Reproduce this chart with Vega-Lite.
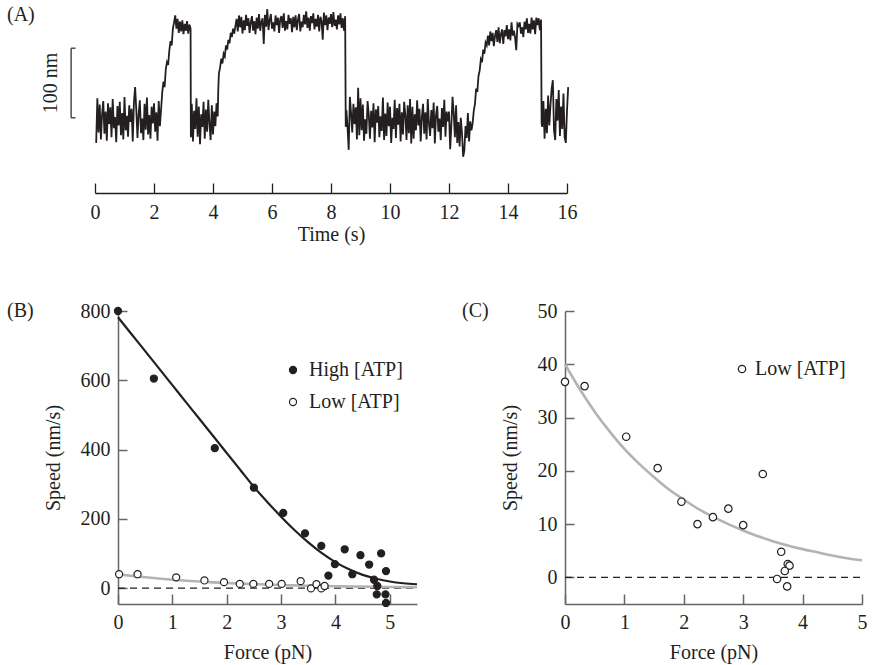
{
  "$schema": "https://vega.github.io/schema/vega-lite/v6.json",
  "padding": {"left": 7, "top": 5, "right": 5, "bottom": 5},
  "background": "white",
  "config": {
    "font": "Liberation Serif",
    "view": {"stroke": null},
    "axis": {"labelFont": "Liberation Serif", "titleFont": "Liberation Serif", "labelFontSize": 20, "titleFontSize": 20, "titleFontWeight": "normal", "grid": false, "domainColor": "#666666", "tickColor": "#666666", "domainWidth": 1.5, "tickWidth": 1.5, "labelColor": "#231f20", "titleColor": "#231f20", "labelFlush": false, "labelOverlap": false},
    "legend": {"labelFont": "Liberation Serif", "labelFontSize": 20, "labelColor": "#231f20"},
    "title": {"anchor": "start", "frame": "group", "font": "Liberation Serif", "fontSize": 20, "fontWeight": "normal", "color": "#231f20", "offset": 0}
  },
  "datasets": {
    "trace": [
      {"t":0.04,"y":72},{"t":0.08,"y":136},{"t":0.12,"y":87},{"t":0.16,"y":127},{"t":0.20,"y":77},{"t":0.24,"y":113},{"t":0.28,"y":132},{"t":0.32,"y":85},{"t":0.36,"y":117},{"t":0.40,"y":75},
      {"t":0.44,"y":129},{"t":0.48,"y":99},{"t":0.52,"y":123},{"t":0.56,"y":80},{"t":0.60,"y":135},{"t":0.64,"y":93},{"t":0.68,"y":109},{"t":0.72,"y":73},{"t":0.76,"y":125},{"t":0.80,"y":97},
      {"t":0.84,"y":131},{"t":0.88,"y":83},{"t":0.92,"y":115},{"t":0.96,"y":77},{"t":1.00,"y":138},{"t":1.04,"y":90},{"t":1.08,"y":111},{"t":1.12,"y":81},{"t":1.16,"y":126},{"t":1.20,"y":102},
      {"t":1.24,"y":121},{"t":1.28,"y":74},{"t":1.32,"y":130},{"t":1.36,"y":152},{"t":1.40,"y":119},{"t":1.44,"y":79},{"t":1.48,"y":114},{"t":1.52,"y":133},{"t":1.56,"y":86},{"t":1.60,"y":107},
      {"t":1.64,"y":76},{"t":1.68,"y":128},{"t":1.72,"y":91},{"t":1.76,"y":137},{"t":1.80,"y":84},{"t":1.84,"y":112},{"t":1.88,"y":78},{"t":1.92,"y":124},{"t":1.96,"y":100},{"t":2.00,"y":129},
      {"t":2.04,"y":88},{"t":2.08,"y":116},{"t":2.12,"y":75},{"t":2.16,"y":132},{"t":2.20,"y":96},{"t":2.24,"y":120},
      {"t":2.28,"y":145},{"t":2.32,"y":160},{"t":2.36,"y":152},{"t":2.40,"y":178},{"t":2.44,"y":188},{"t":2.48,"y":184},{"t":2.52,"y":205},{"t":2.56,"y":218},{"t":2.60,"y":212},{"t":2.64,"y":236},
      {"t":2.68,"y":245},{"t":2.72,"y":255},{"t":2.76,"y":236},{"t":2.80,"y":250},{"t":2.84,"y":230},{"t":2.88,"y":246},{"t":2.92,"y":232},{"t":2.96,"y":248},{"t":3.00,"y":228},{"t":3.04,"y":243},
      {"t":3.08,"y":233},{"t":3.12,"y":247},{"t":3.16,"y":229},{"t":3.20,"y":242},{"t":3.24,"y":236},{"t":3.25,"y":80},
      {"t":3.28,"y":128},{"t":3.32,"y":74},{"t":3.36,"y":118},{"t":3.40,"y":92},{"t":3.44,"y":136},{"t":3.48,"y":81},{"t":3.52,"y":124},{"t":3.56,"y":70},{"t":3.60,"y":113},{"t":3.64,"y":95},
      {"t":3.68,"y":131},{"t":3.72,"y":78},{"t":3.76,"y":120},{"t":3.80,"y":88},{"t":3.84,"y":134},{"t":3.88,"y":99},{"t":3.92,"y":76},{"t":3.96,"y":126},{"t":4.00,"y":84},{"t":4.04,"y":117},
      {"t":4.08,"y":96},{"t":4.12,"y":129},{"t":4.16,"y":110},
      {"t":4.18,"y":150},{"t":4.20,"y":172},{"t":4.24,"y":180},{"t":4.28,"y":193},{"t":4.32,"y":186},{"t":4.36,"y":200},{"t":4.40,"y":196},{"t":4.44,"y":212},{"t":4.48,"y":206},{"t":4.52,"y":220},
      {"t":4.56,"y":215},{"t":4.60,"y":230},{"t":4.64,"y":224},{"t":4.68,"y":236},{"t":4.72,"y":229},{"t":4.76,"y":240},
      {"t":4.80,"y":250},{"t":4.84,"y":232},{"t":4.88,"y":255},{"t":4.92,"y":238},{"t":4.96,"y":253},{"t":5.00,"y":229},{"t":5.04,"y":248},{"t":5.08,"y":234},{"t":5.12,"y":256},{"t":5.16,"y":240},
      {"t":5.20,"y":251},{"t":5.24,"y":230},{"t":5.28,"y":245},{"t":5.32,"y":254},{"t":5.36,"y":233},{"t":5.40,"y":247},{"t":5.44,"y":228},{"t":5.48,"y":252},{"t":5.52,"y":236},{"t":5.56,"y":257},
      {"t":5.60,"y":233},{"t":5.64,"y":246},{"t":5.68,"y":251},{"t":5.72,"y":214},{"t":5.76,"y":256},{"t":5.80,"y":239},{"t":5.84,"y":264},{"t":5.88,"y":234},{"t":5.92,"y":248},{"t":5.96,"y":257},
      {"t":6.00,"y":236},{"t":6.04,"y":245},{"t":6.08,"y":232},{"t":6.12,"y":255},{"t":6.16,"y":241},{"t":6.20,"y":252},{"t":6.24,"y":230},{"t":6.28,"y":250},{"t":6.32,"y":254},{"t":6.36,"y":237},
      {"t":6.40,"y":258},{"t":6.44,"y":233},{"t":6.48,"y":247},{"t":6.52,"y":235},{"t":6.56,"y":256},{"t":6.60,"y":243},{"t":6.64,"y":251},{"t":6.68,"y":231},{"t":6.72,"y":253},{"t":6.76,"y":238},
      {"t":6.80,"y":255},{"t":6.84,"y":234},{"t":6.88,"y":249},{"t":6.92,"y":257},{"t":6.96,"y":232},{"t":7.00,"y":246},{"t":7.04,"y":238},{"t":7.08,"y":256},{"t":7.12,"y":242},{"t":7.16,"y":261},
      {"t":7.20,"y":237},{"t":7.24,"y":252},{"t":7.28,"y":233},{"t":7.32,"y":254},{"t":7.36,"y":244},{"t":7.40,"y":258},{"t":7.44,"y":235},{"t":7.48,"y":250},{"t":7.52,"y":239},{"t":7.56,"y":256},
      {"t":7.60,"y":232},{"t":7.64,"y":253},{"t":7.68,"y":247},{"t":7.72,"y":220},{"t":7.76,"y":259},{"t":7.80,"y":241},{"t":7.84,"y":255},{"t":7.88,"y":234},{"t":7.92,"y":252},{"t":7.96,"y":243},
      {"t":8.00,"y":257},{"t":8.04,"y":238},{"t":8.08,"y":260},{"t":8.12,"y":240},{"t":8.16,"y":249},{"t":8.20,"y":235},{"t":8.24,"y":255},{"t":8.28,"y":242},{"t":8.32,"y":258},{"t":8.36,"y":237},
      {"t":8.40,"y":251},{"t":8.44,"y":233},{"t":8.48,"y":254},{"t":8.50,"y":95},
      {"t":8.52,"y":119},{"t":8.56,"y":95},{"t":8.60,"y":62},{"t":8.64,"y":138},{"t":8.68,"y":115},{"t":8.72,"y":87},{"t":8.76,"y":128},{"t":8.80,"y":99},{"t":8.84,"y":123},{"t":8.88,"y":77},
      {"t":8.92,"y":151},{"t":8.96,"y":83},{"t":9.00,"y":136},{"t":9.04,"y":90},{"t":9.08,"y":127},{"t":9.12,"y":75},{"t":9.16,"y":106},{"t":9.20,"y":85},{"t":9.24,"y":132},{"t":9.28,"y":113},
      {"t":9.32,"y":78},{"t":9.36,"y":118},{"t":9.40,"y":94},{"t":9.44,"y":129},{"t":9.48,"y":73},{"t":9.52,"y":120},{"t":9.56,"y":101},{"t":9.60,"y":125},{"t":9.64,"y":80},{"t":9.68,"y":110},
      {"t":9.72,"y":89},{"t":9.76,"y":137},{"t":9.80,"y":76},{"t":9.84,"y":114},{"t":9.88,"y":82},{"t":9.92,"y":130},{"t":9.96,"y":96},{"t":10.00,"y":124},{"t":10.04,"y":72},{"t":10.08,"y":108},
      {"t":10.12,"y":92},{"t":10.16,"y":134},{"t":10.20,"y":79},{"t":10.24,"y":122},{"t":10.28,"y":98},{"t":10.32,"y":128},{"t":10.36,"y":74},{"t":10.40,"y":116},{"t":10.44,"y":84},{"t":10.48,"y":131},
      {"t":10.52,"y":112},{"t":10.56,"y":76},{"t":10.60,"y":126},{"t":10.64,"y":86},{"t":10.68,"y":135},{"t":10.72,"y":71},{"t":10.76,"y":124},{"t":10.80,"y":78},{"t":10.84,"y":113},{"t":10.88,"y":90},
      {"t":10.92,"y":133},{"t":10.96,"y":97},{"t":11.00,"y":121},{"t":11.04,"y":74},{"t":11.08,"y":109},{"t":11.12,"y":128},{"t":11.16,"y":85},{"t":11.20,"y":116},{"t":11.24,"y":77},{"t":11.28,"y":135},
      {"t":11.32,"y":100},{"t":11.36,"y":82},{"t":11.40,"y":119},{"t":11.44,"y":93},{"t":11.48,"y":130},{"t":11.52,"y":71},{"t":11.56,"y":112},{"t":11.60,"y":125},{"t":11.64,"y":88},{"t":11.68,"y":107},
      {"t":11.72,"y":76},{"t":11.76,"y":122},{"t":11.80,"y":95},{"t":11.84,"y":134},{"t":11.88,"y":81},{"t":11.92,"y":117},{"t":11.96,"y":103},{"t":12.00,"y":117},{"t":12.04,"y":63},{"t":12.08,"y":98},
      {"t":12.12,"y":138},{"t":12.16,"y":114},{"t":12.20,"y":80},{"t":12.24,"y":126},{"t":12.28,"y":72},{"t":12.32,"y":102},{"t":12.36,"y":67},{"t":12.40,"y":108},{"t":12.44,"y":86},{"t":12.48,"y":52},
      {"t":12.52,"y":61},{"t":12.56,"y":96},{"t":12.60,"y":79},{"t":12.64,"y":115},{"t":12.68,"y":74},{"t":12.72,"y":103},{"t":12.76,"y":90},
      {"t":12.80,"y":100},{"t":12.84,"y":118},{"t":12.88,"y":128},{"t":12.92,"y":150},{"t":12.96,"y":145},{"t":13.00,"y":168},{"t":13.04,"y":176},{"t":13.08,"y":192},{"t":13.12,"y":188},{"t":13.16,"y":206},
      {"t":13.20,"y":200},{"t":13.24,"y":216},{"t":13.28,"y":212},
      {"t":13.32,"y":226},{"t":13.36,"y":212},{"t":13.40,"y":232},{"t":13.44,"y":218},{"t":13.48,"y":230},{"t":13.52,"y":211},{"t":13.56,"y":226},{"t":13.60,"y":234},{"t":13.64,"y":217},{"t":13.68,"y":238},
      {"t":13.72,"y":215},{"t":13.76,"y":228},{"t":13.80,"y":235},{"t":13.84,"y":214},{"t":13.88,"y":234},{"t":13.92,"y":225},{"t":13.96,"y":241},{"t":14.00,"y":221},{"t":14.04,"y":235},{"t":14.08,"y":219},
      {"t":14.12,"y":245},{"t":14.16,"y":226},{"t":14.20,"y":233},{"t":14.24,"y":223},{"t":14.28,"y":205},{"t":14.32,"y":243},{"t":14.36,"y":240},{"t":14.40,"y":245},{"t":14.44,"y":229},{"t":14.48,"y":238},
      {"t":14.52,"y":224},{"t":14.56,"y":246},{"t":14.60,"y":235},{"t":14.64,"y":251},{"t":14.68,"y":230},{"t":14.72,"y":243},{"t":14.76,"y":229},{"t":14.80,"y":252},{"t":14.84,"y":235},{"t":14.88,"y":248},
      {"t":14.92,"y":228},{"t":14.96,"y":252},{"t":15.00,"y":241},{"t":15.04,"y":251},{"t":15.08,"y":234},{"t":15.12,"y":249},{"t":15.14,"y":100},
      {"t":15.16,"y":95},{"t":15.20,"y":132},{"t":15.24,"y":78},{"t":15.28,"y":121},{"t":15.32,"y":86},{"t":15.36,"y":140},{"t":15.40,"y":97},{"t":15.44,"y":126},{"t":15.48,"y":150},{"t":15.52,"y":162},
      {"t":15.56,"y":90},{"t":15.60,"y":76},{"t":15.64,"y":135},{"t":15.68,"y":104},{"t":15.72,"y":148},{"t":15.76,"y":82},{"t":15.80,"y":124},{"t":15.84,"y":92},{"t":15.88,"y":143},{"t":15.92,"y":80},
      {"t":15.96,"y":72},{"t":16.00,"y":118},{"t":16.04,"y":152}
    ],
    "bracket": [{"t": -0.81, "y": 108, "y2": 208}],
    "bracketEnds": [{"t": -0.81, "t2": -0.66, "y": 108}, {"t": -0.81, "t2": -0.66, "y": 208}],
    "scaleLabel": [{"t": -1.49, "y": 158, "label": "100 nm"}],
    "zeroB": [{"F": 0, "F2": 5.5, "S": 0}],
    "zeroC": [{"F": 0, "F2": 5, "S": 0}],
    "highFit": [
      {"F":0,"S":782},{"F":0.25,"S":733},{"F":0.5,"S":684},{"F":0.75,"S":635},{"F":1,"S":586},{"F":1.25,"S":537},{"F":1.5,"S":488},{"F":1.75,"S":439},{"F":2,"S":390},{"F":2.25,"S":341},{"F":2.5,"S":292},{"F":2.75,"S":248},
      {"F":3,"S":206},{"F":3.25,"S":167},{"F":3.5,"S":132},{"F":3.75,"S":101},{"F":4,"S":75},{"F":4.25,"S":54},{"F":4.5,"S":38},{"F":4.75,"S":27},{"F":5,"S":19},{"F":5.25,"S":14},{"F":5.5,"S":11}
    ],
    "lowFitB": [
      {"F":0,"S":40},{"F":0.25,"S":35.3},{"F":0.5,"S":31.1},{"F":0.75,"S":27.4},{"F":1,"S":24.1},{"F":1.25,"S":21.3},{"F":1.5,"S":18.8},{"F":1.75,"S":16.5},{"F":2,"S":14.6},{"F":2.25,"S":12.8},{"F":2.5,"S":11.3},{"F":2.75,"S":10.0},
      {"F":3,"S":8.8},{"F":3.25,"S":7.7},{"F":3.5,"S":6.8},{"F":3.75,"S":6.0},{"F":4,"S":5.3},{"F":4.25,"S":4.7},{"F":4.5,"S":4.1},{"F":4.75,"S":3.6},{"F":5,"S":3.2},{"F":5.25,"S":2.8},{"F":5.5,"S":2.5}
    ],
    "lowFitC": [
      {"F":0,"S":40},{"F":0.25,"S":35.3},{"F":0.5,"S":31.1},{"F":0.75,"S":27.4},{"F":1,"S":24.1},{"F":1.25,"S":21.3},{"F":1.5,"S":18.8},{"F":1.75,"S":16.5},{"F":2,"S":14.6},{"F":2.25,"S":12.8},{"F":2.5,"S":11.3},{"F":2.75,"S":10.0},
      {"F":3,"S":8.8},{"F":3.25,"S":7.7},{"F":3.5,"S":6.8},{"F":3.75,"S":6.0},{"F":4,"S":5.3},{"F":4.25,"S":4.7},{"F":4.5,"S":4.1},{"F":4.75,"S":3.6},{"F":5,"S":3.2}
    ],
    "pointsB": [
      {"F":0,"S":800,"series":"High [ATP]"},{"F":0.66,"S":605,"series":"High [ATP]"},{"F":1.78,"S":404,"series":"High [ATP]"},{"F":2.5,"S":290,"series":"High [ATP]"},{"F":3.04,"S":217,"series":"High [ATP]"},
      {"F":3.44,"S":158,"series":"High [ATP]"},{"F":3.74,"S":122,"series":"High [ATP]"},{"F":3.99,"S":69,"series":"High [ATP]"},{"F":3.87,"S":36,"series":"High [ATP]"},{"F":4.17,"S":112,"series":"High [ATP]"},
      {"F":4.31,"S":40,"series":"High [ATP]"},{"F":4.46,"S":95,"series":"High [ATP]"},{"F":4.62,"S":68,"series":"High [ATP]"},{"F":4.71,"S":24,"series":"High [ATP]"},{"F":4.77,"S":6,"series":"High [ATP]"},
      {"F":4.76,"S":-18,"series":"High [ATP]"},{"F":4.84,"S":100,"series":"High [ATP]"},{"F":4.93,"S":49,"series":"High [ATP]"},{"F":4.92,"S":-18,"series":"High [ATP]"},{"F":4.93,"S":-43,"series":"High [ATP]"},
      {"F":0.02,"S":40,"series":"Low [ATP]"},{"F":0.36,"S":40,"series":"Low [ATP]"},{"F":1.07,"S":31,"series":"Low [ATP]"},{"F":1.59,"S":22,"series":"Low [ATP]"},{"F":1.95,"S":17,"series":"Low [ATP]"},
      {"F":2.24,"S":12,"series":"Low [ATP]"},{"F":2.49,"S":12,"series":"Low [ATP]"},{"F":2.78,"S":12,"series":"Low [ATP]"},{"F":3.01,"S":12,"series":"Low [ATP]"},{"F":3.36,"S":20,"series":"Low [ATP]"},
      {"F":3.55,"S":-1,"series":"Low [ATP]"},{"F":3.65,"S":11,"series":"Low [ATP]"},{"F":3.74,"S":-1,"series":"Low [ATP]"},{"F":3.8,"S":6,"series":"Low [ATP]"}
    ],
    "pointsC": [
      {"F":0,"S":36.7,"series":"Low [ATP]"},{"F":0.33,"S":35.9,"series":"Low [ATP]"},{"F":1.03,"S":26.4,"series":"Low [ATP]"},{"F":1.56,"S":20.5,"series":"Low [ATP]"},
      {"F":1.96,"S":14.2,"series":"Low [ATP]"},{"F":2.23,"S":10.0,"series":"Low [ATP]"},{"F":2.49,"S":11.3,"series":"Low [ATP]"},{"F":2.75,"S":12.9,"series":"Low [ATP]"},
      {"F":3.0,"S":9.8,"series":"Low [ATP]"},{"F":3.33,"S":19.4,"series":"Low [ATP]"},{"F":3.64,"S":4.8,"series":"Low [ATP]"},{"F":3.57,"S":-0.3,"series":"Low [ATP]"},
      {"F":3.75,"S":2.5,"series":"Low [ATP]"},{"F":3.78,"S":2.2,"series":"Low [ATP]"},{"F":3.70,"S":1.2,"series":"Low [ATP]"},{"F":3.74,"S":-1.7,"series":"Low [ATP]"}
    ]
  },
  "bounds": "flush",
  "spacing": 118,
  "resolve": {"scale": {"x": "independent", "y": "independent", "fill": "independent"}, "legend": {"fill": "independent"}},
  "vconcat": [
    {
      "width": 449,
      "height": 188,
      "title": {"text": "(A)", "dx": -111, "dy": 24},
      "encoding": {
        "x": {"field": "t", "type": "quantitative", "scale": {"domain": [0, 16], "range": [-23, 449], "nice": false, "zero": false},
              "axis": {"title": "Time (s)", "values": [0, 2, 4, 6, 8, 10, 12, 14, 16], "tickSize": -10, "labelPadding": 19, "titlePadding": 2, "domainColor": "#231f20", "tickColor": "#231f20", "domainWidth": 1.3, "tickWidth": 1.3}},
        "y": {"field": "y", "type": "quantitative", "scale": {"domain": [0, 270], "nice": false, "zero": false}, "axis": null}
      },
      "layer": [
        {"data": {"name": "trace"}, "mark": {"type": "line", "color": "#231f20", "strokeWidth": 1.8, "strokeJoin": "miter"}},
        {"data": {"name": "bracket"}, "mark": {"type": "rule", "color": "#231f20", "strokeWidth": 1.2}, "encoding": {"y2": {"field": "y2"}}},
        {"data": {"name": "bracketEnds"}, "mark": {"type": "rule", "color": "#231f20", "strokeWidth": 1.2}, "encoding": {"x2": {"field": "t2"}}},
        {"data": {"name": "scaleLabel"}, "mark": {"type": "text", "angle": 270, "fontSize": 20, "font": "Liberation Serif", "color": "#231f20", "align": "center", "baseline": "middle"}, "encoding": {"text": {"field": "label"}}}
      ]
    },
    {
      "bounds": "flush",
      "spacing": 148,
      "resolve": {"scale": {"x": "independent", "y": "independent", "fill": "independent"}, "legend": {"fill": "independent"}},
      "hconcat": [
        {
          "width": 299,
          "height": 293,
          "title": {"text": "(B)", "dx": -111, "dy": 24},
          "encoding": {
            "x": {"field": "F", "type": "quantitative", "scale": {"domain": [0, 5.5], "nice": false, "zero": false},
                  "axis": {"title": "Force (pN)", "values": [0, 1, 2, 3, 4, 5], "tickSize": -10, "labelPadding": 18, "titlePadding": 10}},
            "y": {"field": "S", "type": "quantitative", "scale": {"domain": [-46, 800], "nice": false, "zero": false},
                  "axis": {"title": "Speed (nm/s)", "values": [0, 200, 400, 600, 800], "tickSize": -9, "labelPadding": 17, "titlePadding": 17}}
          },
          "layer": [
            {"data": {"name": "zeroB"}, "mark": {"type": "rule", "color": "#231f20", "strokeWidth": 1.2, "strokeDash": [7, 5]}, "encoding": {"x2": {"field": "F2"}}},
            {"data": {"name": "lowFitB"}, "mark": {"type": "line", "color": "#b3b3b3", "strokeWidth": 2.6, "interpolate": "monotone"}},
            {"data": {"name": "highFit"}, "mark": {"type": "line", "color": "#231f20", "strokeWidth": 2.2, "interpolate": "monotone"}},
            {"data": {"name": "pointsB"}, "mark": {"type": "point", "shape": "circle", "filled": true, "size": 50, "stroke": "#231f20", "strokeWidth": 1.2, "opacity": 1},
             "encoding": {"fill": {"field": "series", "type": "nominal", "scale": {"domain": ["High [ATP]", "Low [ATP]"], "range": ["#231f20", "white"]},
               "legend": {"orient": "none", "legendX": 165, "legendY": 49, "title": null, "symbolType": "circle", "symbolSize": 50, "symbolStrokeColor": "#231f20", "symbolStrokeWidth": 1.2, "labelOffset": 6, "rowPadding": 12}}}}
          ]
        },
        {
          "width": 297,
          "height": 293,
          "title": {"text": "(C)", "dx": -103, "dy": 24},
          "encoding": {
            "x": {"field": "F", "type": "quantitative", "scale": {"domain": [0, 5], "nice": false, "zero": false},
                  "axis": {"title": "Force (pN)", "values": [0, 1, 2, 3, 4, 5], "tickSize": -10, "labelPadding": 18, "titlePadding": 10}},
            "y": {"field": "S", "type": "quantitative", "scale": {"domain": [-5, 50], "nice": false, "zero": false},
                  "axis": {"title": "Speed (nm/s)", "values": [0, 10, 20, 30, 40, 50], "tickSize": -9, "labelPadding": 17, "titlePadding": 17}}
          },
          "layer": [
            {"data": {"name": "zeroC"}, "mark": {"type": "rule", "color": "#231f20", "strokeWidth": 1.2, "strokeDash": [7, 5]}, "encoding": {"x2": {"field": "F2"}}},
            {"data": {"name": "lowFitC"}, "mark": {"type": "line", "color": "#b3b3b3", "strokeWidth": 2.6, "interpolate": "monotone"}},
            {"data": {"name": "pointsC"}, "mark": {"type": "point", "shape": "circle", "filled": true, "size": 55, "stroke": "#231f20", "strokeWidth": 1.2, "opacity": 1},
             "encoding": {"fill": {"field": "series", "type": "nominal", "scale": {"domain": ["Low [ATP]"], "range": ["white"]},
               "legend": {"orient": "none", "legendX": 167, "legendY": 48, "title": null, "symbolType": "circle", "symbolSize": 55, "symbolStrokeColor": "#231f20", "symbolStrokeWidth": 1.2, "labelOffset": 3}}}}
          ]
        }
      ]
    }
  ]
}
